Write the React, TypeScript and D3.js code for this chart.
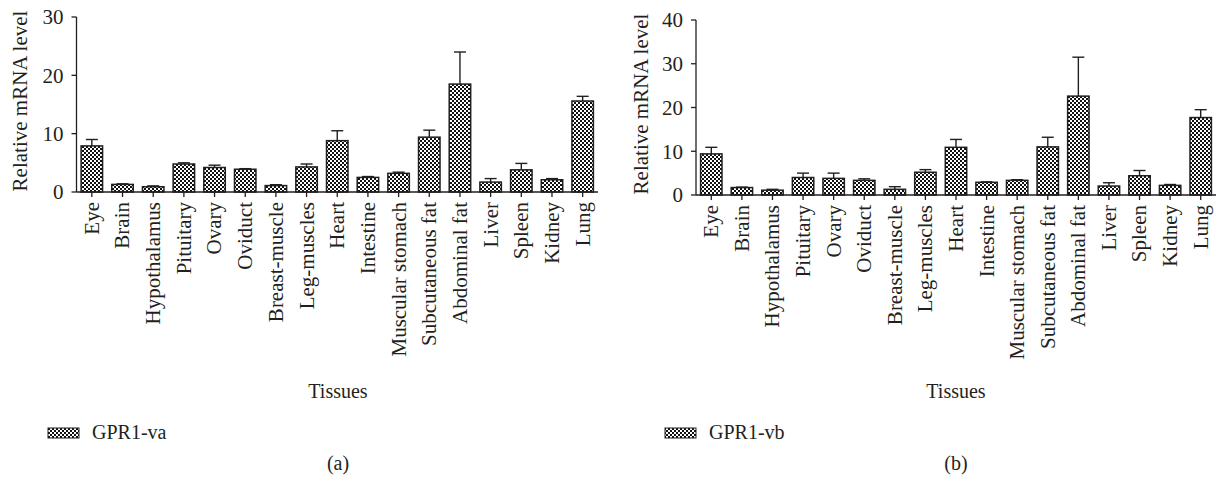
import React from "react";
import * as d3 from "d3";

const tissues = [
  "Eye", "Brain", "Hypothalamus", "Pituitary", "Ovary", "Oviduct", "Breast-muscle",
  "Leg-muscles", "Heart", "Intestine", "Muscular stomach", "Subcutaneous fat",
  "Abdominal fat", "Liver", "Spleen", "Kidney", "Lung",
];

// GPR1-va means and upper error (SEM)
const vaMean = [7.9, 1.3, 0.9, 4.8, 4.2, 3.9, 1.1, 4.3, 8.8, 2.5, 3.2, 9.4, 18.5, 1.7, 3.8, 2.1, 15.6];
const vaErr = [1.1, 0.1, 0.15, 0.2, 0.4, 0.1, 0.15, 0.5, 1.7, 0.15, 0.2, 1.2, 5.5, 0.6, 1.1, 0.2, 0.8];

// GPR1-vb
const vbMean = [9.4, 1.7, 1.1, 4.0, 3.8, 3.35, 1.3, 5.2, 10.9, 2.9, 3.35, 11.0, 22.6, 2.05, 4.4, 2.2, 17.7];
const vbErr = [1.5, 0.1, 0.2, 1.0, 1.2, 0.35, 0.6, 0.6, 1.8, 0.1, 0.15, 2.2, 8.9, 0.75, 1.2, 0.2, 1.8];

const vaTicks = [0, 10, 20, 30];
const vbTicks = [0, 10, 20, 30, 40];

const FONT = "'Liberation Serif', 'DejaVu Serif', serif";
const INK = "#231f20";

type PanelProps = {
  left: number;
  right: number;
  y0: number;
  yTop: number;
  yMax: number;
  ticks: number[];
  means: number[];
  errs: number[];
  series: string;
  tag: string;
  legendX: number;
  titleX: number;
  ylabelX: number;
  ylabelY: number;
};

function Panel(p: PanelProps) {
  const x = d3.scaleBand<string>()
    .domain(tissues)
    .range([p.left, p.right])
    .paddingInner(0.3)
    .paddingOuter(0.15);
  const y = d3.scaleLinear().domain([0, p.yMax]).range([p.y0, p.yTop]);
  const bw = x.bandwidth();

  return (
    <g>
      {tissues.map((t, i) => {
        const bx = x(t)!;
        const cx = bx + bw / 2;
        const top = y(p.means[i]);
        const et = y(p.means[i] + p.errs[i]);
        return (
          <g key={t}>
            <line x1={cx} x2={cx} y1={top} y2={et} stroke={INK} strokeWidth={1.4} />
            <line x1={cx - 6} x2={cx + 6} y1={et} y2={et} stroke={INK} strokeWidth={1.4} />
            <rect x={bx} y={top} width={bw} height={p.y0 - top} fill="url(#checker)" stroke={INK} strokeWidth={1.5} />
          </g>
        );
      })}
      {/* y axis */}
      <line x1={p.left} x2={p.left} y1={p.yTop} y2={p.y0} stroke={INK} strokeWidth={1.3} />
      {p.ticks.map((v) => (
        <g key={v}>
          <line x1={p.left - 5} x2={p.left} y1={y(v)} y2={y(v)} stroke={INK} strokeWidth={1.3} />
          <text x={p.left - 13} y={y(v)} dy="0.35em" textAnchor="end" fontSize={21} fontFamily={FONT} fill={INK}>{v}</text>
        </g>
      ))}
      {/* x axis */}
      <line x1={p.left} x2={p.right} y1={p.y0} y2={p.y0} stroke={INK} strokeWidth={1.3} />
      {tissues.map((t) => {
        const cx = x(t)! + bw / 2;
        return (
          <g key={t}>
            <line x1={cx} x2={cx} y1={p.y0} y2={p.y0 + 5} stroke={INK} strokeWidth={1.3} />
            <text transform={`translate(${cx},${p.y0 + 10}) rotate(-90)`} dy="0.33em" textAnchor="end" fontSize={21} fontFamily={FONT} fill={INK}>{t}</text>
          </g>
        );
      })}
      <text transform={`translate(${p.ylabelX},${p.ylabelY}) rotate(-90)`} textAnchor="middle" fontSize={21} fontFamily={FONT} fill={INK}>Relative mRNA level</text>
      <text x={p.titleX} y={398} textAnchor="middle" fontSize={20} fontFamily={FONT} fill={INK}>Tissues</text>
      <rect x={p.legendX} y={428} width={31} height={10} fill="url(#checker)" stroke={INK} strokeWidth={1} />
      <text x={p.legendX + 44} y={439} fontSize={20} fontFamily={FONT} fill={INK}>{p.series}</text>
      <text x={p.titleX} y={470} textAnchor="middle" fontSize={20} fontFamily={FONT} fill={INK}>{p.tag}</text>
    </g>
  );
}

export default function App() {
  return (
    <svg width={1218} height={481} style={{ position: "absolute", left: 0, top: 0, background: "white" }}>
      <defs>
        <pattern id="checker" width={4} height={4} patternUnits="userSpaceOnUse">
          <rect width={4} height={4} fill="white" />
          <rect width={2} height={2} fill="#111" />
          <rect x={2} y={2} width={2} height={2} fill="#111" />
        </pattern>
      </defs>
      <Panel left={76.5} right={598} y0={192} yTop={17} yMax={30} ticks={vaTicks} means={vaMean} errs={vaErr}
        series="GPR1-va" tag="(a)" legendX={48} titleX={338} ylabelX={27} ylabelY={101} />
      <Panel left={696} right={1216} y0={195} yTop={20} yMax={40} ticks={vbTicks} means={vbMean} errs={vbErr}
        series="GPR1-vb" tag="(b)" legendX={665} titleX={956} ylabelX={648} ylabelY={104} />
    </svg>
  );
}
